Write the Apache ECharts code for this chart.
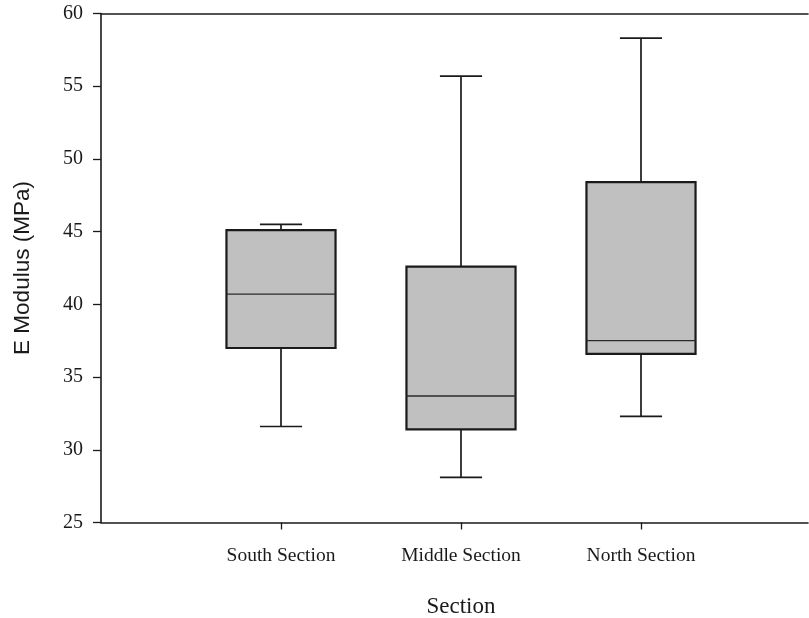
<!DOCTYPE html>
<html>
<head>
<meta charset="utf-8">
<script src="https://cdn.jsdelivr.net/npm/echarts@6/dist/echarts.min.js"></script>
<style>
  html, body { margin: 0; padding: 0; background: #fff; }
  #chart { width: 809px; height: 618px; }
</style>
</head>
<body>
<div id="chart"></div>
<script>
// Box-plot summary of E modulus by pavement section
const categories = ['South Section', 'Middle Section', 'North Section'];
const whiskerLow = [31.6, 28.1, 32.3];
const quartile1 = [37.0, 31.4, 36.6];
const medians = [40.7, 33.7, 37.5];
const quartile3 = [45.1, 42.6, 48.4];
const whiskerHigh = [45.5, 55.7, 58.3];
const yTicks = [25, 30, 35, 40, 45, 50, 55, 60];

const boxData = categories.map((c, i) => [
  i, whiskerLow[i], quartile1[i], medians[i], quartile3[i], whiskerHigh[i]
]);

const serif = '"Liberation Serif", "DejaVu Serif", serif';
const sans = '"Liberation Sans", Arial, sans-serif';
const ink = '#1a1a1a';

function renderBox(params, api) {
  const x = api.value(0);
  const pLow = api.coord([x, api.value(1)]);
  const pQ1 = api.coord([x, api.value(2)]);
  const pMed = api.coord([x, api.value(3)]);
  const pQ3 = api.coord([x, api.value(4)]);
  const pHigh = api.coord([x, api.value(5)]);
  const band = api.size([1, 0])[0];
  const half = band * 0.303;
  const cap = band * 0.117;
  const cx = pMed[0];
  const whisker = { stroke: ink, lineWidth: 1.7, fill: null };
  return {
    type: 'group',
    children: [
      { type: 'line', shape: { x1: cx, y1: pQ3[1], x2: cx, y2: pHigh[1] }, style: whisker },
      { type: 'line', shape: { x1: cx - cap, y1: pHigh[1], x2: cx + cap, y2: pHigh[1] }, style: whisker },
      { type: 'line', shape: { x1: cx, y1: pQ1[1], x2: cx, y2: pLow[1] }, style: whisker },
      { type: 'line', shape: { x1: cx - cap, y1: pLow[1], x2: cx + cap, y2: pLow[1] }, style: whisker },
      {
        type: 'rect',
        shape: { x: cx - half, y: pQ3[1], width: half * 2, height: pQ1[1] - pQ3[1] },
        style: { fill: '#c0c0c0', stroke: ink, lineWidth: 2.2 }
      },
      { type: 'line', shape: { x1: cx - half, y1: pMed[1], x2: cx + half, y2: pMed[1] },
        style: { stroke: '#2a2a2a', lineWidth: 1.3 } }
    ]
  };
}

const chart = echarts.init(document.getElementById('chart'), null, { renderer: 'canvas' });
chart.setOption({
  backgroundColor: '#ffffff',
  animation: false,
  grid: [
    { left: 191, right: 78, top: 13.5, height: 509, outerBoundsMode: 'none', containLabel: false },
    { left: 101, right: 1, top: 13.5, height: 509, outerBoundsMode: 'none', containLabel: false }
  ],
  xAxis: [
    {
      type: 'category', gridIndex: 0, data: categories,
      axisLine: { show: false },
      axisTick: { show: true, alignWithLabel: true, length: 7, lineStyle: { color: ink, width: 1.3 } },
      axisLabel: { fontFamily: serif, fontSize: 19.5, color: ink, margin: 23 },
      name: 'Section', nameLocation: 'middle', nameGap: 73,
      nameTextStyle: { fontFamily: serif, fontSize: 23, color: ink }
    },
    {
      type: 'value', gridIndex: 1, position: 'bottom', min: 0, max: 1,
      axisLine: { show: true, lineStyle: { color: ink, width: 1.6 } },
      axisTick: { show: false }, axisLabel: { show: false }, splitLine: { show: false }
    },
    {
      type: 'value', gridIndex: 1, position: 'top', min: 0, max: 1,
      axisLine: { show: true, lineStyle: { color: ink, width: 1.6 } },
      axisTick: { show: false }, axisLabel: { show: false }, splitLine: { show: false }
    }
  ],
  yAxis: [
    { type: 'value', gridIndex: 0, min: yTicks[0], max: yTicks[yTicks.length - 1], interval: 5, show: false },
    {
      type: 'value', gridIndex: 1, min: yTicks[0], max: yTicks[yTicks.length - 1], interval: 5,
      axisLine: { show: true, lineStyle: { color: ink, width: 1.6 } },
      axisTick: { show: true, length: 8, lineStyle: { color: ink, width: 1.3 } },
      axisLabel: { fontFamily: serif, fontSize: 20, color: ink, margin: 18 },
      splitLine: { show: false },
      name: 'E Modulus (MPa)', nameLocation: 'middle', nameGap: 67,
      nameTextStyle: { fontFamily: sans, fontSize: 22.5, color: ink }
    }
  ],
  series: [
    {
      type: 'custom', xAxisIndex: 0, yAxisIndex: 0,
      renderItem: renderBox,
      encode: { x: 0, y: [1, 2, 3, 4, 5] },
      data: boxData
    }
  ]
});
</script>
</body>
</html>
